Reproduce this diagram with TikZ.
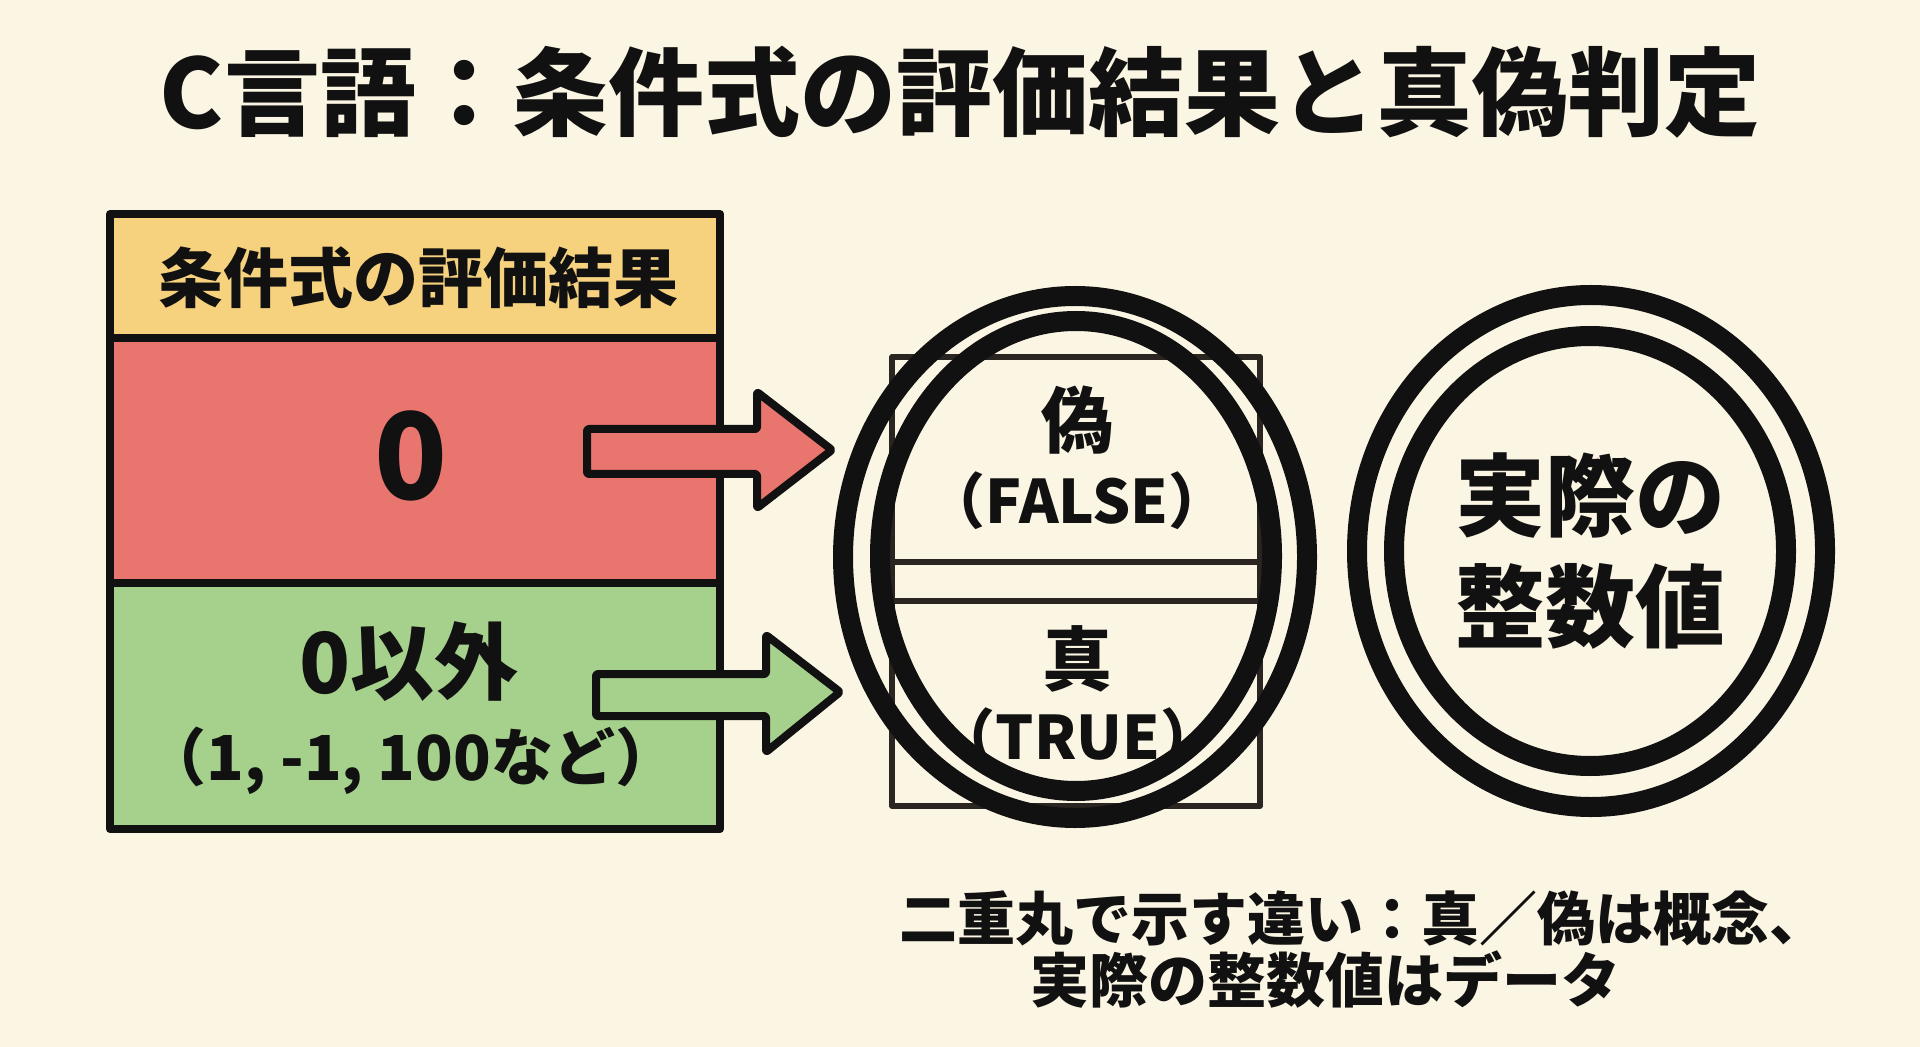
\documentclass[tikz,border=0pt]{standalone}
\usepackage{fontspec}
\setmainfont{Noto Sans CJK JP}
\definecolor{bgc}{HTML}{FBF5E3}
\definecolor{hdrc}{HTML}{F6D27F}
\definecolor{redc}{HTML}{E9756F}
\definecolor{grnc}{HTML}{A6D18C}
\definecolor{inkc}{HTML}{111111}
\definecolor{rectc}{HTML}{2B2522}
\tikzset{
  tbl/.style={draw=inkc, line width=4pt, line join=round, line cap=round},
  blockarrow/.style={draw=inkc, line width=4pt, line join=round, rounded corners=1pt},
  midrect/.style={draw=rectc, line width=3pt, line join=round},
  ring/.style={draw=inkc, line width=10pt},
  lbl/.style={inner sep=0pt, outer sep=0pt, font=\bfseries, text=inkc},
}
\newcommand{\fs}[1]{\fontsize{#1}{#1}\selectfont}
\begin{document}
\begin{tikzpicture}[x=0.5pt,y=-0.5pt]
\fill[bgc] (0,0) rectangle (1920,1047);
\useasboundingbox (0,0) rectangle (1920,1047);

% title
\node[lbl] (title) at (960,92) {\fs{48pt}C言語：条件式の評価結果と真偽判定};

% table
\fill[hdrc] (110,214) rectangle (720,338);
\fill[redc] (110,338) rectangle (720,583);
\fill[grnc] (110,583) rectangle (720,829);
\draw[tbl] (110,214) rectangle (720,829);
\draw[tbl] (110,338) -- (720,338);
\draw[tbl] (110,583) -- (720,583);
\node[lbl] (hdr) at (418,278) {\fs{32.5pt}条件式の評価結果};
\node[lbl] (zero) at (411,456) {\fs{60pt}0};
\node[lbl] (nonzero) at (409,662) {\fs{42pt}0以外};
\node[lbl] (examples) at (411,761) {\fs{31pt}（1, -1, 100など）};

% block arrows
\draw[blockarrow, fill=redc] (587,429) -- (757,429) -- (757,392) -- (832,450)
  -- (757,508) -- (757,474) -- (587,474) -- cycle;
\draw[blockarrow, fill=grnc] (596,674) -- (766,674) -- (766,635) -- (840,692)
  -- (766,752) -- (766,716) -- (596,716) -- cycle;

% middle box
\draw[midrect] (892,357) rectangle (1260,806);
\draw[midrect] (892,562) -- (1260,562);
\draw[midrect] (892,601) -- (1260,601);
\node[lbl] (false1) at (1077,420) {\fs{36pt}偽};
\node[lbl] (false2) at (1077,501) {\fs{30pt}（FALSE）};
\node[lbl] (true1) at (1077,659) {\fs{35pt}真};
\node[lbl] (true2) at (1078,737) {\fs{30pt}（TRUE）};

% double rings
\draw[ring] (1075,557) ellipse [x radius=116pt, y radius=130.5pt];
\draw[ring] (1076,556) ellipse [x radius=98pt, y radius=117.5pt];
\draw[ring] (1591,551) ellipse [x radius=117pt, y radius=128pt];
\draw[ring] (1590,551) ellipse [x radius=98pt, y radius=107.5pt];
\node[lbl] (real1) at (1590,496) {\fs{45pt}実際の};
\node[lbl] (real2) at (1590,606) {\fs{45pt}整数値};

% caption
\node[lbl, anchor=west] (cap1) at (899,918) {\fs{29pt}二重丸で示す違い：真／偽は概念、};
\node[lbl, anchor=west] (cap2) at (1030,980) {\fs{29.5pt}実際の整数値はデータ};
\end{tikzpicture}
\end{document}
